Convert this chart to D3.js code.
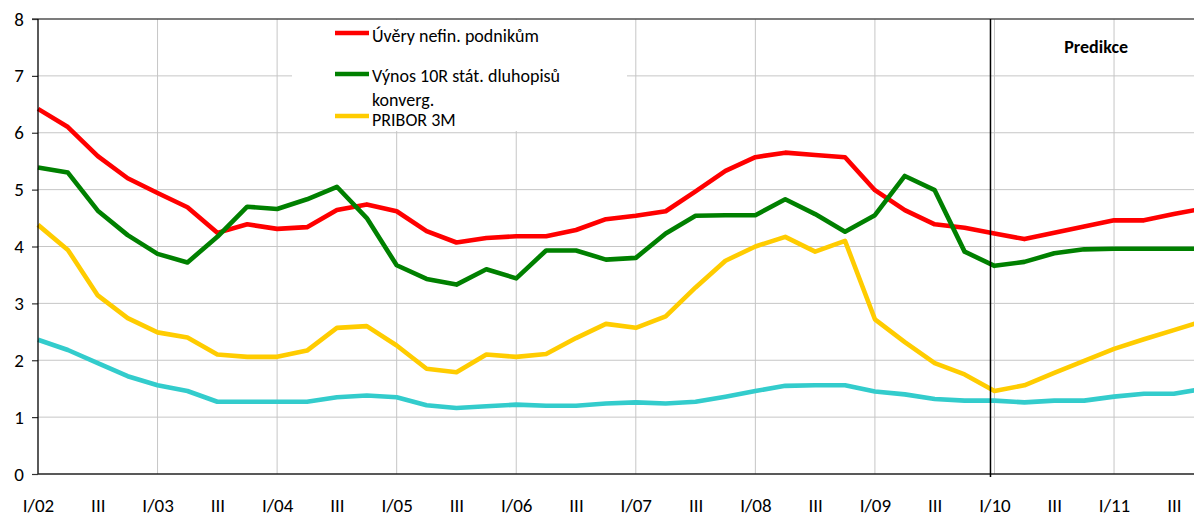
<!DOCTYPE html>
<html><head><meta charset="utf-8">
<script src="https://cdn.jsdelivr.net/npm/d3@7"></script>
<style>body{margin:0;background:#fff}svg{display:block}text{font-family:Carlito,Calibri,Lato,sans-serif}</style>
</head><body><svg id="c" width="1194" height="518"></svg>
<script>
const years = ["02","03","04","05","06","07","08","09","10","11"];
const romans = ["I","II","III","IV"];
const quarters = years.flatMap(y => romans.map(r => r + "/" + y));
const yTicks = [0,1,2,3,4,5,6,7,8];
const forecastStart = "I/10";
const seriesNames = ["Úvěry nefin. podnikům","Výnos 10R stát. dluhopisů konverg.","PRIBOR 3M",""];
const uvery = [6.42,6.10,5.59,5.20,4.94,4.69,4.24,4.39,4.31,4.34,4.64,4.74,4.62,4.27,4.07,4.15,4.18,4.18,4.29,4.48,4.54,4.62,4.97,5.33,5.57,5.65,5.61,5.57,4.99,4.64,4.39,4.33,4.23,4.13,4.24,4.35,4.46,4.46,4.57,4.67];
const vynos = [5.39,5.30,4.63,4.20,3.87,3.72,4.17,4.70,4.66,4.83,5.05,4.50,3.67,3.43,3.33,3.60,3.44,3.93,3.93,3.77,3.80,4.23,4.54,4.55,4.55,4.83,4.57,4.26,4.55,5.24,4.99,3.91,3.66,3.73,3.88,3.95,3.96,3.96,3.96,3.96];
const pribor = [4.38,3.94,3.14,2.74,2.49,2.40,2.10,2.06,2.06,2.17,2.57,2.60,2.26,1.85,1.79,2.10,2.06,2.11,2.39,2.64,2.57,2.77,3.28,3.75,4.00,4.17,3.91,4.10,2.72,2.32,1.95,1.75,1.46,1.56,1.78,1.99,2.20,2.37,2.53,2.69];
const ctvrta = [2.36,2.18,1.95,1.72,1.56,1.46,1.27,1.27,1.27,1.27,1.35,1.38,1.35,1.21,1.16,1.19,1.22,1.20,1.20,1.24,1.26,1.24,1.27,1.36,1.46,1.55,1.56,1.56,1.45,1.40,1.32,1.29,1.29,1.26,1.29,1.29,1.36,1.41,1.41,1.50];
const colors = ["#ff0000","#008000","#ffcc00","#33cccc"];

const svg = d3.select("#c");
const mLeft = 38, mTop = 19, mBottom = 474, step = 29.89;
const x = d3.scalePoint().domain(quarters).range([mLeft, mLeft + step*(quarters.length-1)]);
const y = d3.scaleLinear().domain([0,8]).range([mBottom, mTop]);
const W = 1194;

// horizontal grid
svg.append("g").selectAll("line").data(yTicks.filter(v=>v>0 && v<8)).join("line")
  .attr("x1", mLeft).attr("x2", W).attr("y1", d=>y(d)).attr("y2", d=>y(d))
  .attr("stroke","#c6c6c6").attr("stroke-width",1);
// vertical grid at each year start
svg.append("g").selectAll("line").data(quarters.filter(q=>q.startsWith("I/") && q!=="I/02")).join("line")
  .attr("x1", d=>x(d)).attr("x2", d=>x(d)).attr("y1", mTop).attr("y2", mBottom)
  .attr("stroke","#c6c6c6").attr("stroke-width",1);
// top border
svg.append("line").attr("x1", mLeft-6).attr("x2", W).attr("y1", y(8)).attr("y2", y(8))
  .attr("stroke","#505050").attr("stroke-width",1.3);

// legend background
svg.append("rect").attr("x",292).attr("y",mTop+1).attr("width",335).attr("height",111).attr("fill","#fff");

// lines
const series = [uvery, vynos, pribor, ctvrta];
const line = d3.line().x((d,i)=>x(quarters[i])).y(d=>y(d));
series.forEach((s,k)=>{
  svg.append("path").datum(s).attr("d", line).attr("fill","none")
    .attr("stroke", colors[k]).attr("stroke-width",4.6).attr("stroke-linejoin","round");
});

// axes
const yAxis = d3.axisLeft(y).tickValues(yTicks).tickSize(6).tickPadding(8).tickFormat(d3.format("d"));
const gy = svg.append("g").attr("transform",`translate(${mLeft},0)`).call(yAxis);
gy.select(".domain").remove();
gy.selectAll(".tick line").attr("stroke","#333").attr("stroke-width",1.2);
gy.selectAll("text").attr("font-size",19).attr("fill","#000");
svg.append("line").attr("x1",mLeft).attr("x2",mLeft).attr("y1",mTop).attr("y2",mBottom).attr("stroke","#000").attr("stroke-width",1.3);

const xAxis = d3.axisBottom(x).tickValues(quarters.filter((q,i)=>i%2===0))
  .tickSize(0).tickPadding(25).tickFormat(q => q.startsWith("I/") ? q : q.split("/")[0]);
const gx = svg.append("g").attr("transform",`translate(0,${mBottom})`).call(xAxis);
gx.select(".domain").remove();
gx.selectAll("text").attr("font-size",19).attr("fill","#000");
svg.append("line").attr("x1",mLeft).attr("x2",W).attr("y1",mBottom).attr("y2",mBottom).attr("stroke","#222").attr("stroke-width",1.3);

// forecast line
const fx = x(forecastStart) - 4;
svg.append("line").attr("x1",fx).attr("x2",fx).attr("y1",mTop).attr("y2",mBottom+3).attr("stroke","#000").attr("stroke-width",1.5);
svg.append("text").attr("x", (x("III/10")+x("I/11"))/2 + 12).attr("y", 53).attr("text-anchor","middle")
  .attr("font-size",18).attr("font-weight","bold").text("Predikce");

// legend
const leg = svg.append("g").attr("font-size",18);
const legItems = [
  {c:colors[0], ly:33, lines:[[seriesNames[0],42]]},
  {c:colors[1], ly:74, lines:[["Výnos 10R stát. dluhopisů",82],["konverg.",106]]},
  {c:colors[2], ly:116, lines:[[seriesNames[2],126]]}
];
legItems.forEach(it=>{
  leg.append("line").attr("x1",335).attr("x2",369).attr("y1",it.ly).attr("y2",it.ly).attr("stroke",it.c).attr("stroke-width",4.6);
  it.lines.forEach(([t,yy])=>leg.append("text").attr("x",372).attr("y",yy).text(t));
});
</script></body></html>
